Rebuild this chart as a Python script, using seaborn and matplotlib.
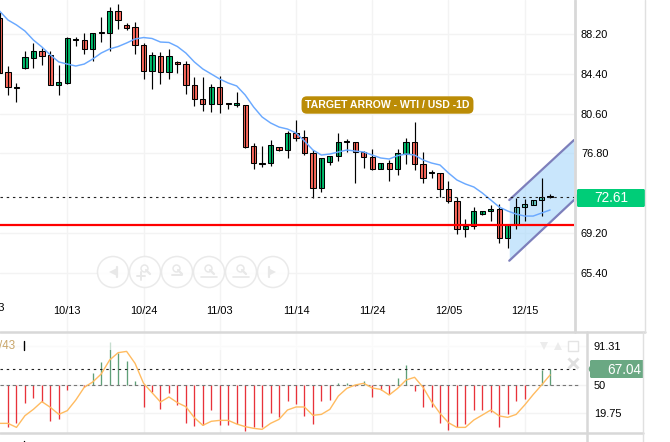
import numpy as np
import pandas as pd
import matplotlib
matplotlib.use('Agg')
import matplotlib.pyplot as plt
from matplotlib.patches import Circle, Polygon
import seaborn as sns

# candles
opens = [89.72, 84.57, 83.04, 84.95, 85.91, 86.57, 86.19, 83.33, 83.52, 87.62, 87.62, 86.77, 88.29, 88.29, 90.39,
         89.06, 88.86, 87.15, 84.67, 86.10, 84.57, 85.53, 85.33, 83.33, 82.00, 81.52, 83.14, 81.61, 81.47, 81.42,
         77.51, 75.79, 75.89, 77.42, 77.13, 78.75, 78.37, 76.84, 73.50, 75.99, 76.56, 77.89, 77.89, 76.94, 76.46,
         75.32, 75.89, 75.32, 76.75, 77.89, 75.79, 74.94, 74.94, 73.41, 72.27, 69.59, 69.88, 71.02, 71.31, 71.50,
         68.73, 70.07, 71.69, 71.88, 72.36, 72.65]
closes = [84.48, 83.14, 83.04, 86.00, 86.57, 86.10, 83.33, 83.62, 87.81, 87.62, 86.77, 88.29, 88.29, 90.39, 89.53,
          88.77, 87.15, 84.67, 86.19, 84.57, 86.10, 85.33, 83.33, 82.00, 81.52, 83.14, 81.52, 81.52, 81.47, 77.42,
          75.89, 75.79, 77.61, 77.13, 78.75, 78.27, 76.84, 73.50, 76.37, 76.56, 77.89, 77.89, 76.94, 76.46, 75.32,
          75.89, 75.32, 76.84, 77.89, 75.79, 74.46, 74.94, 73.41, 72.27, 69.59, 69.88, 71.31, 71.31, 71.50, 68.73,
          69.98, 71.69, 71.98, 72.36, 72.65, 72.65]
highs = [90.30, 85.14, 83.52, 86.57, 87.34, 86.86, 86.57, 85.24, 87.91, 87.91, 88.29, 88.29, 89.82, 90.77, 91.06,
         89.25, 89.34, 87.34, 86.48, 86.48, 86.77, 85.62, 85.62, 84.09, 84.09, 83.43, 84.19, 81.61, 82.66, 81.42,
         77.80, 77.51, 78.08, 77.42, 78.94, 79.99, 79.04, 77.13, 76.37, 76.56, 78.75, 78.18, 77.89, 77.03, 77.23,
         75.89, 76.18, 77.23, 78.27, 79.80, 76.94, 75.22, 74.94, 74.17, 72.65, 70.55, 71.69, 71.31, 71.88, 71.98,
         69.98, 72.55, 72.46, 72.36, 74.46, 72.93]
lows = [84.48, 82.38, 81.71, 84.86, 84.95, 85.24, 83.33, 82.38, 83.43, 87.05, 86.29, 85.62, 87.43, 86.57, 88.67,
        88.58, 86.29, 83.90, 82.95, 83.43, 83.90, 84.48, 82.47, 81.33, 80.85, 80.76, 80.66, 81.04, 81.23, 77.32,
        75.32, 75.51, 75.60, 77.03, 76.37, 77.99, 76.65, 72.55, 73.12, 75.70, 76.08, 76.94, 73.98, 75.41, 75.22,
        75.32, 74.17, 74.75, 75.79, 75.22, 73.98, 74.46, 72.65, 72.07, 69.12, 68.83, 69.59, 70.93, 70.36, 68.26,
        67.78, 69.59, 70.36, 71.88, 70.83, 72.55]
ma_line = [90.39, 89.53, 89.06, 88.48, 87.62, 86.96, 86.19, 85.53, 85.33, 85.14, 85.33, 85.81, 86.38, 86.77, 87.00,
           87.34, 87.72, 87.86, 87.77, 87.43, 87.39, 87.00, 86.38, 85.53, 84.86, 84.38, 83.90, 83.52, 83.24, 82.38,
           81.23, 80.28, 79.71, 79.32, 79.13, 78.75, 77.99, 77.13, 76.65, 76.75, 76.94, 77.13, 77.03, 76.94, 76.65,
           76.37, 76.27, 76.59, 76.75, 76.65, 76.18, 75.89, 75.70, 74.94, 74.27, 73.89, 73.60, 73.03, 72.36, 71.69,
           71.31, 71.02, 70.83, 70.83, 71.12, 71.41]

# lower panel
osc_bars = [50.0, 4.2, 8.5, 29.9, 35.2, 31.7, 10.7, 12.8, 43.8, 49.1, 47.0, 61.9, 74.4, 95.8, 84.0, 75.5, 54.1,
            25.6, 41.6, 23.5, 41.3, 27.8, 8.5, 5.3, 6.4, 22.4, 6.4, 6.4, 7.5, 0.0, 4.2, 4.2, 19.2, 14.9, 32.0, 28.8,
            16.0, 7.5, 32.0, 33.1, 51.6, 52.0, 48.4, 53.4, 37.0, 44.1, 39.5, 56.6, 70.5, 43.4, 26.3, 26.3, 8.5, 1.0,
            4.2, 8.2, 22.4, 22.4, 21.0, 4.2, 18.1, 32.0, 34.2, 49.1, 65.1, 66.2]
osc_line = [8.5, 8.5, 4.2, 16.7, 23.5, 31.7, 25.6, 18.1, 22.1, 33.4, 47.0, 52.7, 61.2, 76.2, 84.0, 85.4, 72.6, 51.3,
            41.3, 31.3, 36.7, 30.6, 26.3, 14.6, 6.4, 10.7, 11.7, 11.7, 7.8, 5.0, 3.2, 2.1, 8.5, 12.8, 22.8, 26.0,
            26.0, 17.1, 18.1, 23.5, 37.7, 45.9, 49.5, 51.3, 46.3, 44.8, 38.8, 45.9, 54.8, 57.7, 47.0, 31.7, 19.2, 9.2,
            4.2, 4.2, 12.1, 17.4, 22.8, 16.4, 14.9, 18.1, 28.1, 39.2, 49.5, 60.2]

date_pos = [8, 17, 26, 35, 44, 53, 62]
date_labels = ['10/13', '10/24', '11/03', '11/14', '11/24', '12/05', '12/15']
price_ticks = [88.20, 84.40, 80.60, 76.80, 69.20, 65.40]
osc_ticks = [91.31, 50, 19.75]

last_price = 72.61
support = 69.97
osc_last = 67.04

channel_x = [60.18, 67.82]
channel_top = [72.36, 78.08]
channel_bottom = [66.57, 72.36]

sns.set_theme(style='white')
plt.rcParams['font.family'] = ['Liberation Sans', 'DejaVu Sans']
plt.rcParams['hatch.linewidth'] = 0.8
plt.rcParams['hatch.color'] = '#ececec'

df = pd.DataFrame({'open': opens, 'high': highs, 'low': lows, 'close': closes, 'ma': ma_line,
                   'osc_bar': osc_bars, 'osc': osc_line})
df['i'] = df.index
up = df['close'] >= df['open']

W, H = 670, 442
fig = plt.figure(figsize=(W / 100, H / 100), dpi=100, facecolor='white')
ax = fig.add_axes([0, 1 - 332 / H, 574 / W, 332 / H])
ax2 = fig.add_axes([0, 1 - 433 / H, 587 / W, 101 / H])

to_i = lambda px: (px + 0.46) / 8.47
ax.set_xlim(to_i(0), to_i(574))
ax.set_ylim(59.77, 91.44)
ax2.set_xlim(to_i(0), to_i(587))
ax2.set_ylim(-1.8, 106.1)

for a in (ax, ax2):
    for s in a.spines.values():
        s.set_visible(False)
    a.set_xticks(date_pos)
    a.grid(True, color='#f3f3f3', lw=1)
    a.set_axisbelow(True)
    a.yaxis.tick_right()
    a.tick_params(axis='both', length=0, labelsize=7.9, labelcolor='black', pad=5)

ax.set_yticks(price_ticks)
ax.set_yticklabels(['%.2f' % v for v in price_ticks])
ax.set_xticklabels(date_labels)
ax.tick_params(axis='x', pad=-18.5)
ax2.set_yticks(osc_ticks)
ax2.set_yticklabels(['91.31', '50', '19.75'])
ax2.set_xticklabels([])

# date cut off at the left edge
ax.annotate('10/03', xy=(-1, 0), xycoords=ax.get_xaxis_transform(), xytext=(0, 13.5), textcoords='offset points',
            ha='center', va='bottom', fontsize=7.9, color='black', annotation_clip=False)

# hatched zone on the right
ax.axvspan(to_i(559), to_i(574), facecolor='none', hatch='////', lw=0, zorder=0.5)
ax2.axvspan(to_i(558), to_i(579), facecolor='none', hatch='////', lw=0, zorder=0.5)

# candles: fill under the channel, outline and wick over it
body_h = (df['close'] - df['open']).abs().clip(lower=0.12)
body_y = df[['open', 'close']].min(axis=1)
ax.bar(df['i'], body_h, bottom=body_y, width=0.62, color=np.where(up, '#00bf6f', '#ff6b5e'), lw=0, zorder=3)

sns.lineplot(data=df, x='i', y='ma', ax=ax, color='#6aa9ff', lw=1.05, zorder=6, errorbar=None)

ax.fill_between(channel_x, channel_bottom, channel_top, color='#a8d8fb', alpha=0.62, lw=0, zorder=4)
ax.vlines(df['i'], df['low'], df['high'], color='black', lw=0.85, zorder=5)
ax.bar(df['i'], body_h, bottom=body_y, width=0.62, facecolor='none', edgecolor='black', lw=0.75, zorder=5)
ax.plot(channel_x, channel_top, color='#7d7fbb', lw=1.6, zorder=6)
ax.plot(channel_x, channel_bottom, color='#7d7fbb', lw=1.6, zorder=6)

ax.axhline(support, color='#ff0000', lw=1.6, zorder=7)
ax.axhline(last_price, color='#222222', lw=0.8, dashes=(2.2, 3.4), zorder=7)

# lower panel
ax2.vlines(df['i'], 50, df['osc_bar'], color=np.where(df['osc_bar'] >= 50, '#5f9f78', '#e8323a'), lw=0.95, zorder=2)
ax2.axhline(50, color='#777777', lw=0.8, dashes=(3, 2.5), xmax=578 / 587, zorder=3)
ax2.axhline(osc_last, color='#222222', lw=0.8, dashes=(2.2, 3.4), xmax=576 / 587, zorder=3)
ax2.axhspan(86.9, 106.1, color='white', alpha=0.65, lw=0, zorder=3)
sns.lineplot(data=df, x='i', y='osc', ax=ax2, color='#ffbb60', lw=1.0, zorder=4, errorbar=None)
ax.set_xlabel('')
ax.set_ylabel('')
ax2.set_xlabel('')
ax2.set_ylabel('')

# page furniture, in pixel coordinates
top = fig.add_axes([0, 0, 1, 1], zorder=10)
top.set_xlim(0, W)
top.set_ylim(H, 0)
top.axis('off')
top.patch.set_alpha(0)
border = '#d8d8d8'
top.plot([0, 645], [332, 332], color=border, lw=1.8)
top.plot([0, 643], [433, 433], color=border, lw=1.8)
top.plot([574.5, 574.5], [0, 332], color=border, lw=2)
top.plot([587, 587], [332, 442], color=border, lw=1.8)
top.plot([645, 645], [0, 332], color='#e0e0e0', lw=1)
top.plot([643, 643], [332, 442], color='#e0e0e0', lw=1)

top.text(387.5, 105, 'TARGET ARROW - WTI / USD -1D', color='white', fontsize=7.6, fontweight='bold', ha='center',
         va='center', bbox=dict(boxstyle='round,pad=0.35,rounding_size=0.5', fc='#bb8c06', ec='none'))

top.add_patch(Polygon([(574, 198), (577, 194), (577, 190), (578, 189), (644, 189), (645, 190), (645, 206), (644, 207),
                       (578, 207), (577, 206), (577, 202)], closed=True, fc='#00cd78', ec='none'))
top.text(611, 198.5, '72.61', color='white', fontsize=9.8, ha='center', va='center')
top.add_patch(Polygon([(588, 369), (590, 366), (590, 361), (591, 360), (643, 360), (643, 378), (591, 378), (590, 377),
                       (590, 372)], closed=True, fc='#6aa883', ec='none'))
top.text(624, 369.5, '67.04', color='white', fontsize=9.8, ha='center', va='center')

top.text(15, 346, '/43', color='#c9a66b', fontsize=8.4, ha='right', va='center')
top.plot([23.5, 23.5], [341, 350], color='black', lw=1)
top.plot([23.5, 23.5], [441, 442], color='black', lw=1)

# zoom buttons
btn = '#e8e8e8'
for cx in [113, 145, 177, 209, 241, 273]:
    top.add_patch(Circle((cx, 272), 15.5, fc='white', ec=btn, lw=1.1, alpha=0.9))
top.plot(113, 272, marker='<', ms=6, color=btn, mew=0)
top.plot([116.5, 116.5], [267, 277], color=btn, lw=1.6)
top.plot(272, 272, marker='>', ms=6, color=btn, mew=0)
top.plot([268.5, 268.5], [267, 277], color=btn, lw=1.6)
for cx in [145, 177, 209, 241]:
    top.plot(cx - 1, 268, marker='o', ms=5, mfc='white', mec=btn, mew=1.1)
    top.plot([cx + 1, cx + 5], [270, 274], color=btn, lw=1.6)
top.plot([137, 145], [276, 276], color=btn, lw=1.4)
top.plot([141, 141], [272, 280], color=btn, lw=1.4)
top.plot([172, 182], [275, 275], color=btn, lw=1.4)
for cx in [209, 241]:
    top.plot([cx - 8, cx + 8], [277, 277], color=btn, lw=1.2)

# panel icons
top.plot(544, 346, marker='v', ms=6, color='#ececec', mew=0)
top.plot(558, 346, marker='^', ms=6, color='#ececec', mew=0)
top.plot(573, 346, marker='s', ms=6.5, mfc='white', mec='#e4e4e4', mew=1)
top.plot(573, 363, marker='x', ms=6.5, color='#e0e0e0', mew=2)

fig.savefig('out.png', dpi=100)
